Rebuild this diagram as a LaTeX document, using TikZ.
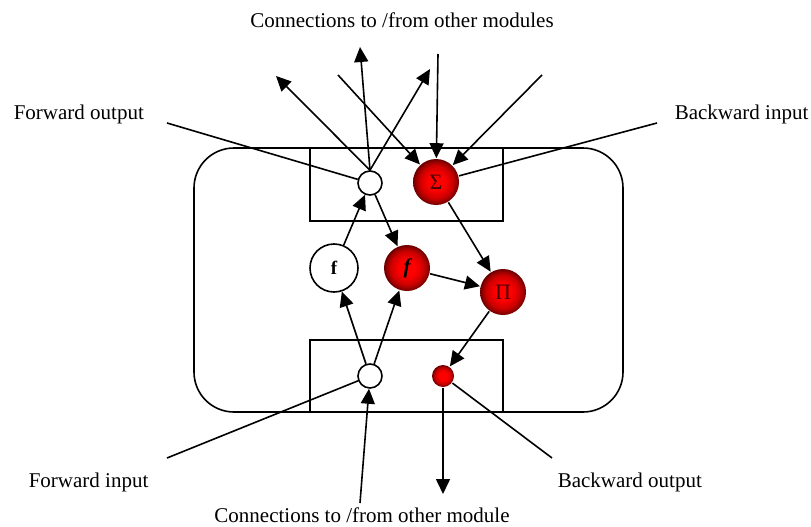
\documentclass[tikz,border=0pt]{standalone}
\usepackage{fontspec}
\setmainfont{Liberation Serif}
\usetikzlibrary{arrows.meta}
\definecolor{symb}{RGB}{70,0,0}
% red sphere: bright core fading to a dark rim
\pgfdeclareradialshading{redball}{\pgfpoint{0bp}{0bp}}{%
  color(0bp)=(red); color(9bp)=(red); color(18bp)=(red!80!black);
  color(23bp)=(red!55!black); color(25bp)=(red!40!black); color(50bp)=(red!40!black)}
\begin{document}
\begin{tikzpicture}[x=1pt,y=-1pt,line width=1.6pt,
  >={Triangle[length=15pt,width=14pt]},
  wnode/.style={circle,draw,fill=white,inner sep=0pt},
  rnode/.style={circle,shading=redball,inner sep=0pt},
  sym/.style={font=\fontsize{22}{22}\selectfont,text=symb},
  lbl/.style={font=\fontsize{21}{25}\selectfont,inner sep=0pt}]
\useasboundingbox (0,0) rectangle (811,527);

% module frame and its two interface blocks
\draw[rounded corners=40pt] (194,148) rectangle (623,412);
\draw (310,148) rectangle (503,221);
\draw (310,340) rectangle (503,412);

% units
\node[wnode,minimum size=24pt] (tc) at (370,183) {};
\node[rnode,sym,minimum size=46pt] (sg) at (436,182) {Σ};
\node[wnode,minimum size=48pt] (fw) at (334,268) {\fontsize{19}{19}\selectfont\bfseries f};
\node[rnode,minimum size=46pt] (fr) at (407,268) {\fontsize{21}{21}\selectfont\bfseries\itshape f};
\node[rnode,sym,minimum size=46pt] (pi) at (503,292) {Π};
\node[wnode,minimum size=24pt] (bc) at (370,376) {};
\node[rnode,minimum size=22pt] (br) at (443,376) {};

% free ends of the external connections
\coordinate (o1) at (276,76);
\coordinate (o2) at (360,47);
\coordinate (o3) at (430,69);
\coordinate (i1) at (338,75);
\coordinate (i2) at (438,54);
\coordinate (i3) at (542,75);
\coordinate (fo) at (167,123);
\coordinate (bi) at (657,123);
\coordinate (fi) at (167,458);
\coordinate (bo) at (552,458);
\coordinate (dn) at (443,494);
\coordinate (up) at (360,503);

% external connections
\draw[->] (tc.north) -- (o1);
\draw[->] (tc.north) -- (o2);
\draw[->] (tc.north) -- (o3);
\draw[->] (i1) -- (sg);
\draw[->] (i2) -- (sg);
\draw[->] (i3) -- (sg);
\draw[->] (br) -- (dn);
\draw[->] (up) -- (bc);

% internal connections
\draw[->] (fw) -- (tc);
\draw[->] (tc) -- (fr);
\draw[->] (bc) -- (fw);
\draw[->] (bc) -- (fr);
\draw[->] (sg) -- (pi);
\draw[->] (fr) -- (pi);
\draw[->] (pi) -- (br);

% label leaders
\draw (fo) -- (tc);
\draw (bi) -- (sg);
\draw (fi) -- (bc);
\draw (bo) -- (br);

% labels
\node[lbl,anchor=base] (ltop) at (402,28) {Connections to /from other modules};
\node[lbl,anchor=base] (lbot) at (362,522) {Connections to /from other module};
\node[lbl,anchor=base west] (lfo) at (13,119) {Forward output};
\node[lbl,anchor=base west] (lbi) at (674,119) {Backward input};
\node[lbl,anchor=base west] (lfi) at (28,487) {Forward input};
\node[lbl,anchor=base west] (lbo) at (557,487) {Backward output};
\end{tikzpicture}
\end{document}
